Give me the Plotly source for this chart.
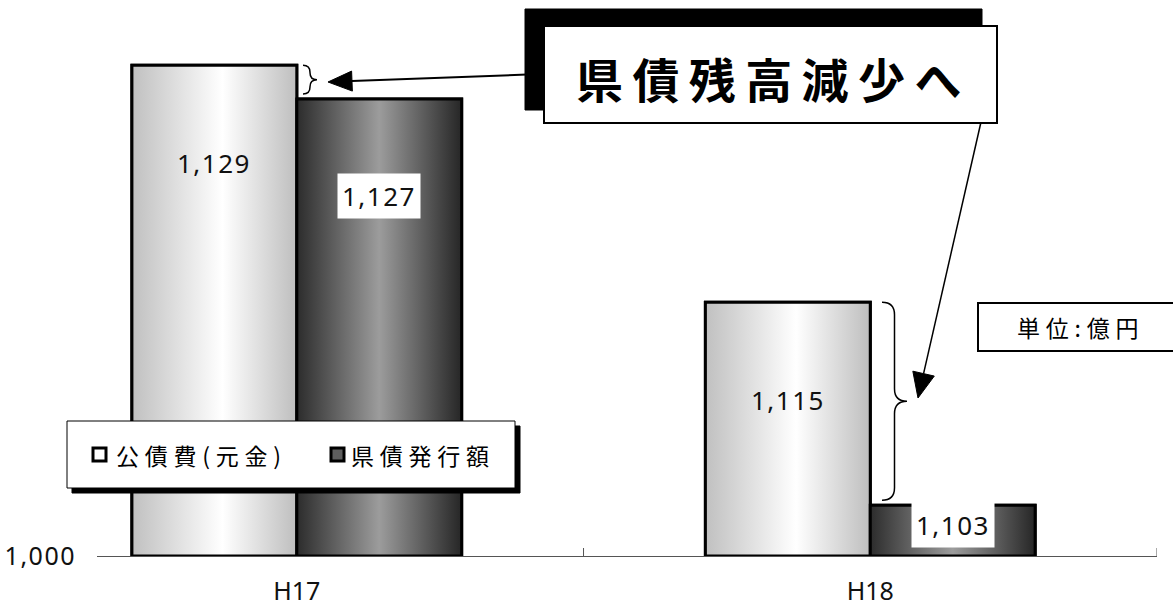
import plotly.graph_objects as go

# ---------------- data ----------------
categories = ["H17", "H18"]
series_names = ["公債費(元金)", "県債発行額"]
kousaihi_values = [1129, 1115]      # 公債費(元金)
kensai_values = [1127, 1103]        # 県債発行額
y_tick_vals = [1100]
y_tick_labels = ["1,000"]
title_text = "県債残高減少へ"
unit_text = "単位:億円"

# ---------------- geometry / style ----------------
W, H = 1173, 607
ML, MR, MT, MB = 97, 16, 0, 51
PW, PH = W - ML - MR, H - MT - MB
Y0, Y1 = 1100, 1132.855
X0, X1 = -0.3484, 1.5
BAR_W = 0.2875
offsets = [-BAR_W, 0.0]
label_drop = [[98, 98], [97, 20]]
CJK = "Noto Sans CJK JP"
LAT = "Noto Sans"

light_scale = [[0, "#c0c0c0"], [0.55, "#ffffff"], [1, "#bebebe"]]
dark_scale = [[0, "#2c2c2c"], [0.5, "#9c9c9c"], [1, "#262626"]]
scales = [light_scale, dark_scale]
solid = ["#e6e6e6", "#707070"]


def sp(text, px):
    return f'<span style="letter-spacing:{px}px">{text}</span>'


def thin(text, ch="\u2009"):
    return ch.join(text)


def fx(p):
    return (p - ML) / PW


def fy(p):
    return 1 - (p - MT) / PH


def vpy(v):
    return MT + (Y1 - v) / (Y1 - Y0) * PH


fig = go.Figure()
series_values = [kousaihi_values, kensai_values]
xs = list(range(len(categories)))

for s, vals in enumerate(series_values):
    fig.add_trace(go.Bar(
        x=xs, y=vals, name=series_names[s], width=BAR_W, offset=offsets[s],
        marker=dict(color=solid[s], line=dict(color="black", width=3)),
        showlegend=False, hoverinfo="skip"))

for s, vals in enumerate(series_values):
    for i, v in enumerate(vals):
        a = xs[i] + offsets[s]
        b = a + BAR_W
        fig.add_trace(go.Scatter(
            x=[a, a, b, b, a], y=[Y0, v, v, Y0, Y0], mode="lines",
            fill="toself",
            fillgradient=dict(type="horizontal", colorscale=scales[s]),
            line=dict(color="black", width=3),
            showlegend=False, hoverinfo="skip"))

annotations = []
for s, vals in enumerate(series_values):
    for i, v in enumerate(vals):
        annotations.append(dict(
            x=xs[i] + offsets[s] + BAR_W / 2, y=v, xref="x", yref="y",
            text=sp(f"{v:,}", 1.5), showarrow=False,
            xanchor="center", yanchor="middle",
            yshift=-label_drop[s][i],
            font=dict(family=LAT, size=26, color="#111"),
            bgcolor="white" if s == 1 else "rgba(0,0,0,0)", borderpad=4))

shapes = []


def rect(x0, y0, x1, y1, fill, lc="black", lw=1):
    shapes.append(dict(type="rect", xref="paper", yref="paper",
                       x0=fx(x0), x1=fx(x1), y0=fy(y1), y1=fy(y0),
                       fillcolor=fill, line=dict(color=lc, width=lw)))


def arrow(tail, tip, length, half, lw):
    dx, dy = tip[0] - tail[0], tip[1] - tail[1]
    n = (dx * dx + dy * dy) ** 0.5
    ux, uy = dx / n, dy / n
    bx, by = tip[0] - ux * length, tip[1] - uy * length
    px_, py_ = -uy, ux
    shapes.append(dict(type="line", xref="paper", yref="paper",
                       x0=fx(tail[0]), y0=fy(tail[1]), x1=fx(bx), y1=fy(by),
                       line=dict(color="black", width=lw)))
    pts = [(tip[0], tip[1]), (bx + px_ * half, by + py_ * half),
           (bx - px_ * half, by - py_ * half)]
    path = "M " + " L ".join(f"{fx(x):.5f},{fy(y):.5f}" for x, y in pts) + " Z"
    shapes.append(dict(type="path", xref="paper", yref="paper", path=path,
                       fillcolor="black", line=dict(color="black", width=1)))


def brace(x0, x1, y0, y1):
    xm = (x0 + x1) / 2
    ym = (y0 + y1) / 2
    r = min((x1 - x0) / 2, (y1 - y0) / 4)
    pts = [("M", [(x0, y0)]),
           ("Q", [(xm, y0), (xm, y0 + r)]),
           ("L", [(xm, ym - r)]),
           ("Q", [(xm, ym), (x1, ym)]),
           ("Q", [(xm, ym), (xm, ym + r)]),
           ("L", [(xm, y1 - r)]),
           ("Q", [(xm, y1), (x0, y1)])]
    path = " ".join(c + " " + " ".join(f"{fx(x):.5f},{fy(y):.5f}" for x, y in p)
                    for c, p in pts)
    shapes.append(dict(type="path", xref="paper", yref="paper", path=path,
                       line=dict(color="black", width=1.5)))


def label(px, py, text, size, bold=False, xanchor="center"):
    t = f"<b>{text}</b>" if bold else text
    annotations.append(dict(x=fx(px), y=fy(py), xref="paper", yref="paper",
                            xanchor=xanchor, yanchor="middle", text=t,
                            showarrow=False,
                            font=dict(family=CJK, size=size, color="black")))


for tv in [0.5, 1.5]:
    shapes.append(dict(type="line", xref="x", yref="paper", x0=tv, x1=tv,
                       y0=0, y1=8 / PH, line=dict(color="#555", width=1)))

brace(303, 317, vpy(kousaihi_values[0]), vpy(kensai_values[0]) - 5)
brace(882, 907, vpy(kousaihi_values[1]), vpy(kensai_values[1]) - 5)

arrow((540, 74), (328, 82), 24, 10, 2)
arrow((981, 122), (918, 398), 25, 11, 1.5)

# title box
rect(525, 9, 982, 110, "black", "black", 1)
rect(544, 26, 997, 123, "white", "black", 2)
label(768, 77, thin(title_text), 47, bold=True)

# unit box
rect(978, 303, 1185, 351, "white", "black", 2)
label(1077, 327, thin(unit_text, "\u2005"), 23)

# legend box
rect(72, 426, 520, 493, "black", "black", 1)
rect(67, 421, 515, 488, "white", "black", 1)
rect(93, 448, 106, 461, "white", "black", 3)
rect(331, 448, 344, 461, "#5e5e5e", "black", 3)
label(114, 455, thin(series_names[0], "\u2005"), 23, xanchor="left")
label(349, 455, thin(series_names[1], "\u2005"), 23, xanchor="left")

fig.update_layout(
    width=W, height=H,
    margin=dict(l=ML, r=MR, t=MT, b=MB, autoexpand=False),
    paper_bgcolor="white", plot_bgcolor="white",
    barmode="overlay",
    showlegend=False,
    shapes=shapes,
    annotations=annotations,
    xaxis=dict(range=[X0, X1], tickvals=xs, ticktext=categories,
               ticks="", showgrid=False, zeroline=False, automargin=False,
               showline=True, linecolor="#555", linewidth=1,
               ticklabelstandoff=13,
               tickfont=dict(family=LAT, size=25, color="#111")),
    yaxis=dict(range=[Y0, Y1], tickvals=y_tick_vals,
               ticktext=[sp(t, 1.5) for t in y_tick_labels],
               ticks="", showgrid=False, zeroline=False, showline=False,
               automargin=False, ticklabelstandoff=20,
               tickfont=dict(family=LAT, size=25, color="#111")),
)

fig.write_html("out.html")
